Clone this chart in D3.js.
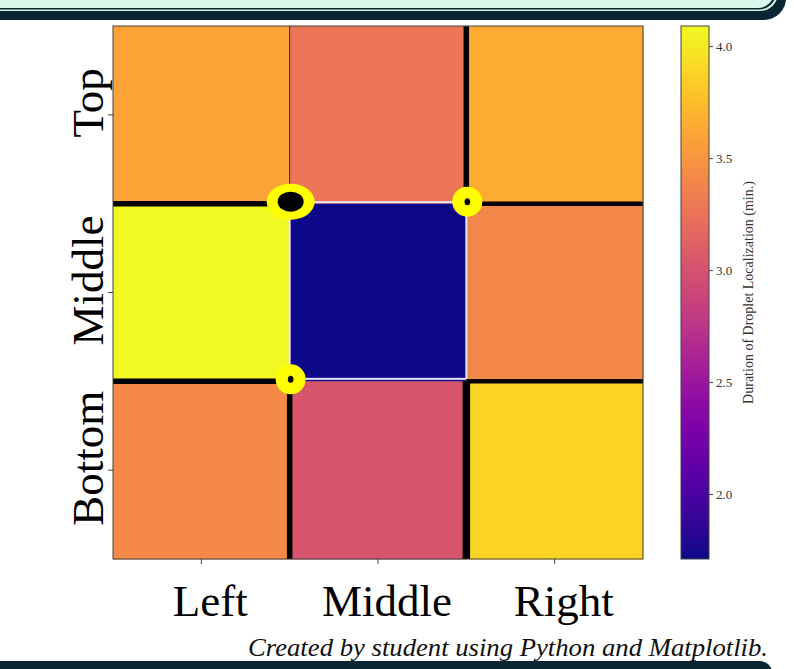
<!DOCTYPE html>
<html>
<head>
<meta charset="utf-8">
<script src="https://cdn.jsdelivr.net/npm/d3@7"></script>
<style>
  body { margin: 0; background: #fff; }
  svg { display: block; }
  text { font-family: "Liberation Serif", "DejaVu Serif", serif; }
</style>
</head>
<body>
<div id="chart"></div>
<script>
// grid labels
var rowNames = ["Top", "Middle", "Bottom"];
var colNames = ["Left", "Middle", "Right"];

// duration of droplet localization (min.) per cell, rows top->bottom
var topRow = [3.59, 3.27, 3.64];
var middleRow = [4.09, 1.71, 3.40];
var bottomRow = [3.42, 3.02, 3.88];

var colorTicks = [2.0, 2.5, 3.0, 3.5, 4.0];
var colorDomain = [1.71, 4.09];

// walls on grid boundaries (grid units): x1, y1, x2, y2, weight
var wallX1 = [0, 2, 0, 2, 1, 2, 2, 1];
var wallY1 = [1, 1, 2, 2, 2, 0, 2, 0];
var wallX2 = [1, 3, 1, 3, 1, 2, 2, 1];
var wallY2 = [1, 1, 2, 2, 3, 1, 3, 1];
var wallWeight = [3, 2, 3, 2, 3, 3, 4, 0];

// markers at grid corners
var markerX = [1, 2, 1];
var markerY = [1, 1, 2];
var markerKind = ["large", "small", "small"];

var W = 794, H = 669;
var svg = d3.select("#chart").append("svg")
  .attr("width", W).attr("height", H);

//banner at the top and bottom
var dark = "#0b2533";
svg.append("rect").attr("x", -20).attr("y", -40).attr("width", 806).attr("height", 60)
  .attr("rx", 22).attr("fill", dark);
svg.append("rect").attr("x", -20).attr("y", -40).attr("width", 798).attr("height", 51)
  .attr("rx", 18).attr("fill", "#d3f3e4");
svg.append("rect").attr("x", -20).attr("y", -40).attr("width", 796).attr("height", 49.5)
  .attr("rx", 17).attr("fill", dark);
svg.append("rect").attr("x", -20).attr("y", -40).attr("width", 794).attr("height", 48)
  .attr("rx", 16).attr("fill", "#d9f8e9");
svg.append("rect").attr("x", -20).attr("y", 661).attr("width", 792).attr("height", 40)
  .attr("rx", 12).attr("fill", dark);

svg.append("text")
  .attr("x", 768).attr("y", 656)
  .attr("text-anchor", "end")
  .attr("font-style", "italic")
  .attr("font-size", 25)
  .attr("textLength", 520)
  .attr("lengthAdjust", "spacingAndGlyphs")
  .attr("fill", "#111")
  .text("Created by student using Python and Matplotlib.");

// heatmap
var pLeft = 113, pRight = 643, pTop = 26, pBottom = 559;
var x = d3.scaleBand().domain(colNames).range([pLeft, pRight]);
var y = d3.scaleBand().domain(rowNames).range([pTop, pBottom]);
var gx = d3.scaleLinear().domain([0, 3]).range([pLeft, pRight]);
var gy = d3.scaleLinear().domain([0, 3]).range([pTop, pBottom]);
var color = d3.scaleSequential(d3.interpolatePlasma).domain(colorDomain);

var values = [topRow, middleRow, bottomRow];
var cells = [];
rowNames.forEach(function(r, i) {
  colNames.forEach(function(c, j) {
    cells.push({row: r, col: c, i: i, j: j, v: values[i][j]});
  });
});

var plot = svg.append("g");
plot.selectAll("rect.cell").data(cells).enter().append("rect")
  .attr("class", "cell")
  .attr("x", function(d) { return pLeft + d.j * x.bandwidth(); })
  .attr("y", function(d) { return pTop + d.i * y.bandwidth(); })
  .attr("width", x.bandwidth() + 0.5)
  .attr("height", y.bandwidth() + 0.5)
  .attr("fill", function(d) { return color(d.v); });

// light outline round the centre cell
plot.append("rect")
  .attr("x", gx(1)).attr("y", gy(1) - 1.5)
  .attr("width", gx(2) - gx(1)).attr("height", gy(2) - gy(1) - 1)
  .attr("fill", "none").attr("stroke", "#ece4f2").attr("stroke-width", 2);

// walls
var walls = wallX1.map(function(d, k) {
  return {x1: d, y1: wallY1[k], x2: wallX2[k], y2: wallY2[k], w: wallWeight[k]};
});
var wallWidth = [1, 3, 4.5, 5.5, 7.5];
plot.selectAll("line.wall").data(walls).enter().append("line")
  .attr("class", "wall")
  .attr("x1", function(d) { return gx(d.x1); })
  .attr("y1", function(d) { return gy(d.y1); })
  .attr("x2", function(d) { return gx(d.x2); })
  .attr("y2", function(d) { return gy(d.y2); })
  .attr("stroke", function(d) { return d.w === 0 ? "#3a2a2a" : "#000"; })
  .attr("stroke-width", function(d) { return wallWidth[d.w]; });

// markers
var markers = markerX.map(function(d, k) {
  return {x: d, y: markerY[k], kind: markerKind[k]};
});
var mk = plot.selectAll("g.marker").data(markers).enter().append("g")
  .attr("class", "marker")
  .attr("transform", function(d) { return "translate(" + (gx(d.x) + 1) + "," + (gy(d.y) - 2) + ")"; });
mk.append("ellipse")
  .attr("rx", function(d) { return d.kind === "large" ? 24 : 15; })
  .attr("ry", function(d) { return d.kind === "large" ? 18 : 15; })
  .attr("fill", "#ffff00");
mk.append("ellipse")
  .attr("rx", function(d) { return d.kind === "large" ? 13 : 2.8; })
  .attr("ry", function(d) { return d.kind === "large" ? 10 : 3.5; })
  .attr("fill", "#000");

// frame
plot.append("rect")
  .attr("x", pLeft).attr("y", pTop)
  .attr("width", pRight - pLeft).attr("height", pBottom - pTop)
  .attr("fill", "none").attr("stroke", "#444").attr("stroke-width", 1);

// axes
var xAxis = svg.append("g")
  .attr("transform", "translate(0," + pBottom + ")")
  .call(d3.axisBottom(x).tickSize(5).tickSizeOuter(0));
xAxis.select(".domain").remove();
xAxis.selectAll(".tick line").attr("stroke", "#444");
xAxis.selectAll(".tick text")
  .attr("y", 57).attr("dy", 0).attr("dx", 9)
  .attr("font-size", 45)
  .attr("font-family", "Liberation Serif, serif")
  .attr("fill", "#000");

var yAxis = svg.append("g")
  .attr("transform", "translate(" + pLeft + ",0)")
  .call(d3.axisLeft(y).tickSize(5).tickSizeOuter(0));
yAxis.select(".domain").remove();
yAxis.selectAll(".tick line").attr("stroke", "#444");
yAxis.selectAll(".tick text")
  .attr("x", 0).attr("y", 0).attr("dy", 0)
  .attr("text-anchor", "middle")
  .attr("transform", "translate(-10,-12) rotate(-90)")
  .attr("font-size", 45)
  .attr("font-family", "Liberation Serif, serif")
  .attr("fill", "#000");

// colorbar
var cbLeft = 681, cbWidth = 28;
var cScale = d3.scaleLinear().domain(colorDomain).range([pBottom, pTop]);
var grad = svg.append("defs").append("linearGradient")
  .attr("id", "cbar").attr("x1", 0).attr("y1", 1).attr("x2", 0).attr("y2", 0);
d3.range(0, 1.0001, 0.05).forEach(function(t) {
  grad.append("stop").attr("offset", t).attr("stop-color", d3.interpolatePlasma(t));
});
svg.append("rect")
  .attr("x", cbLeft).attr("y", pTop)
  .attr("width", cbWidth).attr("height", pBottom - pTop)
  .attr("fill", "url(#cbar)").attr("stroke", "#444").attr("stroke-width", 1);

var cAxis = svg.append("g")
  .attr("transform", "translate(" + (cbLeft + cbWidth) + ",0)")
  .call(d3.axisRight(cScale).tickValues(colorTicks).tickFormat(d3.format(".1f")).tickSize(4));
cAxis.select(".domain").remove();
cAxis.selectAll(".tick line").attr("stroke", "#444");
cAxis.selectAll(".tick text")
  .attr("font-size", 13)
  .attr("font-family", "Liberation Serif, serif")
  .attr("fill", "#333");

svg.append("text")
  .attr("transform", "translate(753," + ((pTop + pBottom) / 2) + ") rotate(-90)")
  .attr("text-anchor", "middle")
  .attr("font-size", 14)
  .attr("fill", "#333")
  .text("Duration of Droplet Localization (min.)");
</script>
</body>
</html>
